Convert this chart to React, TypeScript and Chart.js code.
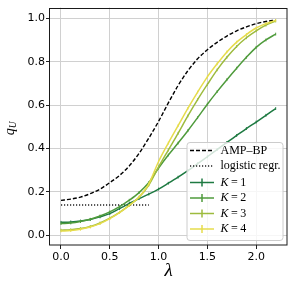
import React, { useEffect, useRef } from "react";
import { Chart, registerables } from "chart.js";

Chart.register(...registerables);

const lambdas = [0, 0.1, 0.2, 0.3, 0.4, 0.5, 0.6, 0.7, 0.8, 0.9, 1.0, 1.1, 1.2, 1.3, 1.4, 1.5, 1.6, 1.7, 1.8, 1.9, 2.0, 2.1, 2.2];
const ampBP = [0.161, 0.167, 0.176, 0.192, 0.213, 0.243, 0.276, 0.32, 0.378, 0.448, 0.525, 0.61, 0.69, 0.758, 0.813, 0.855, 0.889, 0.918, 0.942, 0.96, 0.975, 0.985, 0.992];
const logisticLambdas = [0, 0.1, 0.2, 0.3, 0.4, 0.5, 0.6, 0.7, 0.8, 0.9];
const logisticValues = [0.14, 0.14, 0.14, 0.14, 0.14, 0.14, 0.14, 0.14, 0.14, 0.14];
const k1 = [0.06, 0.062, 0.066, 0.073, 0.085, 0.1, 0.123, 0.147, 0.169, 0.19, 0.213, 0.24, 0.268, 0.298, 0.33, 0.362, 0.395, 0.428, 0.46, 0.492, 0.522, 0.553, 0.584];
const k2 = [0.054, 0.057, 0.064, 0.074, 0.089, 0.108, 0.132, 0.162, 0.197, 0.243, 0.31, 0.37, 0.425, 0.482, 0.542, 0.604, 0.662, 0.717, 0.77, 0.82, 0.866, 0.9, 0.927];
const k3 = [0.024, 0.026, 0.031, 0.041, 0.057, 0.079, 0.106, 0.138, 0.175, 0.232, 0.315, 0.393, 0.47, 0.55, 0.625, 0.695, 0.762, 0.82, 0.87, 0.91, 0.942, 0.968, 0.987];
const k4 = [0.02, 0.022, 0.028, 0.038, 0.054, 0.077, 0.105, 0.138, 0.177, 0.237, 0.34, 0.425, 0.505, 0.585, 0.66, 0.73, 0.79, 0.845, 0.89, 0.925, 0.955, 0.975, 0.99];

const xTicks = [0, 0.5, 1.0, 1.5, 2.0];
const yTicks = [0, 0.2, 0.4, 0.6, 0.8, 1.0];
const seriesLabels = ["AMP–BP", "logistic regr.", "K = 1", "K = 2", "K = 3", "K = 4"];
const kColors = ["#1e7a42", "#4f9b3c", "#9dbb3e", "#e6dc4c"];

const toPts = (xs: number[], ys: number[]) => xs.map((x, i) => ({ x, y: ys[i] }));

const decorPlugin = {
  id: "decor",
  afterDatasetsDraw(chart: any) {
    const { ctx } = chart;
    const { left, top, right, bottom } = chart.chartArea;
    ctx.save();
    ctx.strokeStyle = "#1a1a1a";
    ctx.lineWidth = 1;
    ctx.setLineDash([]);
    ctx.strokeRect(Math.round(left) - 0.5, Math.round(top) + 0.5, Math.round(right - left) + 0.5, Math.round(bottom - top) - 0.5);

    const bw = 96, bh = 98;
    const bx = right - 4.5 - bw;
    const by = bottom - 5 - bh;
    ctx.beginPath();
    (ctx as any).roundRect(bx + 0.5, by + 0.5, bw, bh, 3);
    ctx.fillStyle = "rgba(255,255,255,0.8)";
    ctx.fill();
    ctx.strokeStyle = "#cccccc";
    ctx.lineWidth = 1;
    ctx.stroke();

    const rows = [8.5, 24, 40.5, 56, 71.5, 87];
    const hx0 = bx + 3.5, hx1 = bx + 27.5, tx = bx + 34;
    rows.forEach((dy, i) => {
      const y = by + dy;
      ctx.save();
      ctx.lineWidth = 1.5;
      if (i === 0) {
        ctx.strokeStyle = "#000";
        ctx.setLineDash([4, 2]);
      } else if (i === 1) {
        ctx.strokeStyle = "#222";
        ctx.setLineDash([1.2, 1.8]);
      } else {
        ctx.strokeStyle = kColors[i - 2];
        ctx.setLineDash([]);
      }
      ctx.beginPath();
      ctx.moveTo(hx0, y);
      ctx.lineTo(hx1, y);
      ctx.stroke();
      if (i >= 2) {
        const cx = (hx0 + hx1) / 2;
        ctx.beginPath();
        ctx.moveTo(cx, y - 4);
        ctx.lineTo(cx, y + 4);
        ctx.stroke();
      }
      ctx.restore();
      ctx.fillStyle = "#000";
      ctx.textBaseline = "middle";
      ctx.textAlign = "left";
      const label = seriesLabels[i];
      if (i >= 2) {
        const parts = label.split(" ");
        let x = tx;
        ctx.font = 'italic 12px "Liberation Serif"';
        ctx.fillText(parts[0], x, y);
        x += ctx.measureText(parts[0]).width + 2.5;
        ctx.font = '12px "Liberation Serif"';
        ctx.fillText(parts[1], x, y);
        x += ctx.measureText(parts[1]).width + 2.5;
        ctx.fillText(parts[2], x, y);
      } else {
        ctx.font = '12px "Liberation Serif"';
        ctx.fillText(label, tx, y);
      }
    });

    ctx.fillStyle = "#000";
    ctx.font = 'italic 19px "Liberation Serif"';
    ctx.textAlign = "center";
    ctx.textBaseline = "alphabetic";
    ctx.fillText("λ", (left + right) / 2, 276);

    ctx.save();
    ctx.translate(13.5, (top + bottom) / 2 + 2);
    ctx.rotate(-Math.PI / 2);
    ctx.font = 'italic 14px "Liberation Serif"';
    const qw = ctx.measureText("q").width;
    ctx.font = 'italic 9.5px "Liberation Serif"';
    const uw = ctx.measureText("U").width;
    const start = -(qw + uw) / 2;
    ctx.textAlign = "left";
    ctx.font = 'italic 14px "Liberation Serif"';
    ctx.fillText("q", start, 0);
    ctx.font = 'italic 9.5px "Liberation Serif"';
    ctx.fillText("U", start + qw, 2.5);
    ctx.restore();

    ctx.restore();
  },
};

export default function App() {
  const ref = useRef<HTMLCanvasElement>(null);
  useEffect(() => {
    document.body.style.margin = "0";
    const kSets = [k1, k2, k3, k4].map((arr, i) => ({
      label: seriesLabels[i + 2],
      data: toPts(lambdas, arr),
      borderColor: kColors[i],
      backgroundColor: kColors[i],
      borderWidth: 1.5,
      showLine: true,
      pointStyle: "line" as const,
      rotation: 90,
      pointRadius: 1.4,
      pointBorderWidth: 1,
      pointBorderColor: kColors[i],
      cubicInterpolationMode: "monotone" as const,
      order: 4 - i,
    }));
    const chart = new Chart(ref.current!, {
      type: "scatter",
      data: {
        datasets: [
          {
            label: seriesLabels[0],
            data: toPts(lambdas, ampBP),
            borderColor: "#000",
            borderWidth: 1.4,
            borderDash: [4, 2],
            showLine: true,
            pointRadius: 0,
            cubicInterpolationMode: "monotone",
            order: 6,
          },
          {
            label: seriesLabels[1],
            data: toPts(logisticLambdas, logisticValues),
            borderColor: "#222",
            borderWidth: 1.4,
            borderDash: [1.2, 1.8],
            showLine: true,
            pointRadius: 0,
            order: 5,
          },
          ...kSets,
        ] as any,
      },
      options: {
        animation: false,
        responsive: false,
        events: [],
        layout: { padding: { top: 6, right: 17, left: 0, bottom: 0 } },
        plugins: { legend: { display: false }, tooltip: { enabled: false }, title: { display: false } },
        scales: {
          x: {
            type: "linear",
            min: -0.1127,
            max: 2.316,
            afterBuildTicks: (s: any) => {
              s.ticks = xTicks.map((v) => ({ value: v }));
            },
            afterFit: (s: any) => {
              s.height = 42;
            },
            grid: { color: "#d0d0d0", lineWidth: 1, drawTicks: true, tickLength: 4, tickColor: "#222" },
            border: { display: false },
            ticks: {
              padding: 2,
              color: "#000",
              font: { family: "DejaVu Sans", size: 11 },
              callback: (v: any) => Number(v).toFixed(1),
            },
          },
          y: {
            type: "linear",
            min: -0.0445,
            max: 1.049,
            afterBuildTicks: (s: any) => {
              s.ticks = yTicks.map((v) => ({ value: v }));
            },
            afterFit: (s: any) => {
              s.width = 50;
            },
            grid: { color: "#d0d0d0", lineWidth: 1, drawTicks: true, tickLength: 4, tickColor: "#222" },
            border: { display: false },
            ticks: {
              padding: 1,
              color: "#000",
              font: { family: "DejaVu Sans", size: 11 },
              callback: (v: any) => Number(v).toFixed(1),
            },
          },
        },
      },
      plugins: [decorPlugin],
    });
    return () => chart.destroy();
  }, []);
  return <canvas ref={ref} width={304} height={287} style={{ display: "block", width: 304, height: 287 }} />;
}
